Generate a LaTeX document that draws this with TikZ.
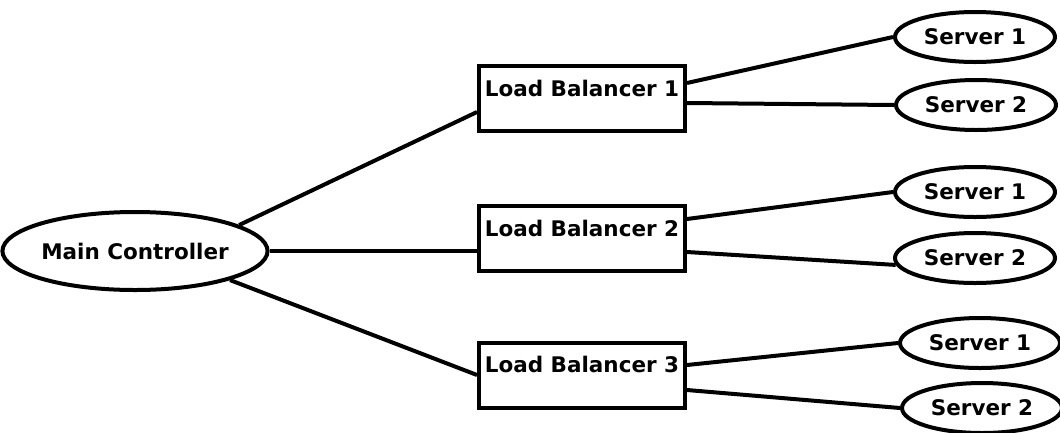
\documentclass[tikz,border=0pt]{standalone}
\usepackage{fontspec}
\setmainfont{DejaVu Sans}
\usetikzlibrary{shapes.geometric}
\begin{document}
\begin{tikzpicture}[x=1pt,y=-1pt,line width=4pt,
    every node/.style={font=\bfseries\fontsize{21.5}{24}\selectfont},
    ctrl/.style={draw,ellipse,inner sep=0pt,minimum width=240pt,minimum height=78pt},
    lbbox/.style={draw,rectangle,inner sep=0pt,minimum width=206pt,text height=30pt,text depth=35pt},
    srv/.style={draw,ellipse,inner sep=0pt,minimum width=160pt,minimum height=50pt}]
    \useasboundingbox (0,0) rectangle (1060,432);
    \node[ctrl] (mc) at (135,251) {Main Controller};
    \node[lbbox] (lb1) at (582,98.5) {Load Balancer 1};
    \node[lbbox] (lb2) at (582,238.5) {Load Balancer 2};
    \node[lbbox] (lb3) at (582,375) {Load Balancer 3};
    \node[srv] (s11) at (975,37) {Server 1};
    \node[srv] (s12) at (976,105) {Server 2};
    \node[srv] (s21) at (975,192) {Server 1};
    \node[srv] (s22) at (975,258) {Server 2};
    \node[srv] (s31) at (980,343) {Server 1};
    \node[srv] (s32) at (982,408) {Server 2};
    %controller vers les load balancers
    \draw (mc.14) -- ([yshift=-13.5pt]lb1.west);
    \draw (mc.east) -- ([yshift=-12.5pt]lb2.west);
    \draw (mc.-17) -- (lb3.west);
    %load balancers vers les serveurs
    \draw ([yshift=15.5pt]lb1.east) -- (s11.west);
    \draw ([yshift=-4.5pt]lb1.east) -- (s12.west);
    \draw ([yshift=19.5pt]lb2.east) -- (s21.west);
    \draw ([yshift=-13.5pt]lb2.east) -- (s22.185);
    \draw ([yshift=10pt]lb3.east) -- (s31.west);
    \draw ([yshift=-15pt]lb3.east) -- (s32.west);
\end{tikzpicture}
\end{document}
